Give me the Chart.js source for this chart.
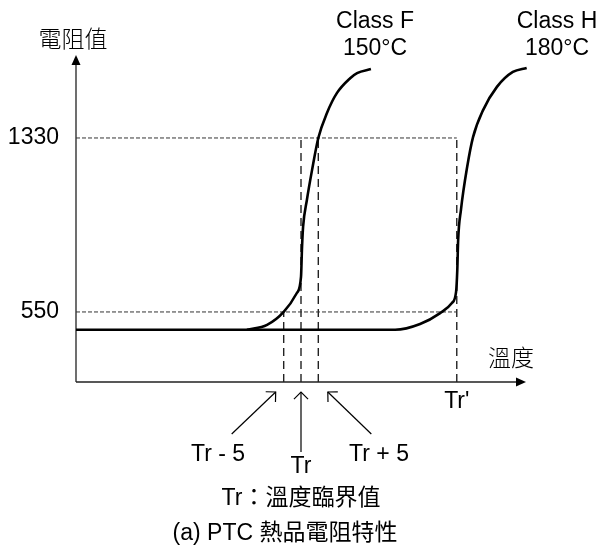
<!DOCTYPE html>
<html>
<head>
<meta charset="utf-8" />
<title>PTC 熱品電阻特性</title>
<script src="https://cdn.jsdelivr.net/npm/chart.js"></script>
<style>
  body, html { margin: 0; padding: 0; background: #fff; }
  canvas { display: block; }
</style>
</head>
<body>
<canvas id="ptcChart" width="600" height="552"></canvas>
<script>
// axis ranges (temperature in arbitrary units, Tr = 150)
const xRange = [85, 215];
const yRange = [236, 1702];
const yTicks = [550, 1330];
const markTemps = [145, 150, 155, 195];
const markLabels = ['Tr - 5', 'Tr', 'Tr + 5', "Tr'"];

// Class F curve (leaves the base line near Tr - 5)
const classFTemp = [134.4, 140.2, 145, 148.8, 150.0, 150.3, 150.6, 151.7, 153.2, 155, 157.5, 160.4, 164.2, 166.2, 170.2];
const classFRes  = [470, 492, 550, 635, 707, 841, 931, 1052, 1187, 1330, 1442, 1532, 1598, 1621, 1639];

// Class H curve, including the flat base line from the y axis
const classHTemp = [85, 177.2, 184.4, 190.2, 193.6, 194.8, 195.15, 195.4, 196.2, 198.0, 199.7, 202.6, 206.6, 211.2, 215.2];
const classHRes  = [470, 470, 496, 545, 590, 640, 738, 873, 1007, 1200, 1334, 1455, 1559, 1626, 1644];

const toPoints = (xs, ys) => xs.map((v, i) => ({ x: v, y: ys[i] }));

const curveStyle = {
  showLine: true,
  pointRadius: 0,
  borderColor: '#000',
  borderWidth: 2.6,
  cubicInterpolationMode: 'monotone',
  clip: false,
  order: 0
};

const thinDash = { showLine: true, pointRadius: 0, borderColor: '#333', borderWidth: 1, borderDash: [4, 2], order: 2 };
const longDash = { showLine: true, pointRadius: 0, borderColor: '#222', borderWidth: 1.4, borderDash: [8, 5], order: 2 };

const trPrime = markTemps[3];
const datasets = [
  { ...curveStyle, label: 'Class F', data: toPoints(classFTemp, classFRes) },
  { ...curveStyle, label: 'Class H', data: toPoints(classHTemp, classHRes) },
  // horizontal reference lines at the tick values
  ...yTicks.map(v => ({ ...thinDash, data: [{ x: xRange[0], y: v }, { x: trPrime, y: v }] })),
  // vertical reference lines; Tr - 5 stops at 550, others at 1330
  ...markTemps.map((t, i) => ({
    ...longDash,
    data: [{ x: t, y: yRange[0] }, { x: t, y: i === 0 ? yTicks[0] : yTicks[1] }]
  }))
];

const CJK = '"Noto Sans CJK TC"';
const LAT = '"Liberation Sans", Arial';

function arrowHead(ctx, tx, ty, angle, len) {
  ctx.beginPath();
  ctx.moveTo(tx + len * Math.cos(angle + Math.PI / 4), ty + len * Math.sin(angle + Math.PI / 4));
  ctx.lineTo(tx, ty);
  ctx.lineTo(tx + len * Math.cos(angle - Math.PI / 4), ty + len * Math.sin(angle - Math.PI / 4));
  ctx.stroke();
}

function pointer(ctx, x0, y0, x1, y1) {
  ctx.beginPath();
  ctx.moveTo(x0, y0);
  ctx.lineTo(x1, y1);
  ctx.stroke();
  arrowHead(ctx, x1, y1, Math.atan2(y0 - y1, x0 - x1), 10);
}

const decor = {
  id: 'decor',
  beforeDatasetsDraw(chart) {
    const { ctx, chartArea: a } = chart;
    ctx.save();
    ctx.strokeStyle = '#222';
    ctx.fillStyle = '#000';
    ctx.lineWidth = 1.3;
    ctx.beginPath();
    ctx.moveTo(a.left, a.bottom);
    ctx.lineTo(a.left, a.top + 8);
    ctx.moveTo(a.left, a.bottom);
    ctx.lineTo(a.right - 8, a.bottom);
    ctx.stroke();
    ctx.beginPath();
    ctx.moveTo(a.left, a.top);
    ctx.lineTo(a.left - 4.5, a.top + 10);
    ctx.lineTo(a.left + 4.5, a.top + 10);
    ctx.closePath();
    ctx.fill();
    ctx.beginPath();
    ctx.moveTo(a.right, a.bottom);
    ctx.lineTo(a.right - 10, a.bottom - 4.5);
    ctx.lineTo(a.right - 10, a.bottom + 4.5);
    ctx.closePath();
    ctx.fill();
    ctx.restore();
  },
  afterDatasetsDraw(chart) {
    const { ctx, chartArea: a, scales: { x, y } } = chart;
    ctx.save();
    ctx.fillStyle = '#000';
    ctx.textAlign = 'center';
    ctx.textBaseline = 'middle';

    ctx.font = '300 23px ' + CJK;
    ctx.fillText('電阻值', 73, 38);
    ctx.fillText('溫度', 511, 357);

    ctx.font = '23px ' + LAT;
    ctx.textAlign = 'right';
    yTicks.forEach(v => ctx.fillText(String(v), a.left - 17, y.getPixelForValue(v)));

    ctx.textAlign = 'center';
    ctx.fillText('Class F', 375, 22);
    ctx.fillText('150°C', 375, 49);
    ctx.fillText('Class H', 557, 22);
    ctx.fillText('180°C', 557, 49);

    const px = markTemps.map(t => x.getPixelForValue(t));
    ctx.fillText(markLabels[3], px[3], 402);
    ctx.fillText(markLabels[0], 218, 455);
    ctx.fillText(markLabels[1], px[1], 467);
    ctx.fillText(markLabels[2], 379, 455);

    ctx.font = '23px ' + LAT + ', ' + CJK;
    ctx.fillText('Tr：溫度臨界值', 301, 499);
    ctx.fillText('(a) PTC 熱品電阻特性', 285, 534);

    ctx.strokeStyle = '#000';
    ctx.lineWidth = 1.2;
    pointer(ctx, px[0] - 52, 434, px[0] - 8, 392);
    pointer(ctx, px[1], 452, px[1], 392);
    pointer(ctx, px[2] + 53, 434, px[2] + 9.5, 392);
    ctx.restore();
  }
};

new Chart(document.getElementById('ptcChart'), {
  type: 'scatter',
  data: { datasets },
  options: {
    responsive: false,
    animation: false,
    layout: { padding: { left: 76, top: 55, right: 74, bottom: 170 } },
    scales: {
      x: { type: 'linear', display: false, min: xRange[0], max: xRange[1] },
      y: { type: 'linear', display: false, min: yRange[0], max: yRange[1] }
    },
    plugins: { legend: { display: false }, tooltip: { enabled: false } }
  },
  plugins: [decor]
});
</script>
</body>
</html>
